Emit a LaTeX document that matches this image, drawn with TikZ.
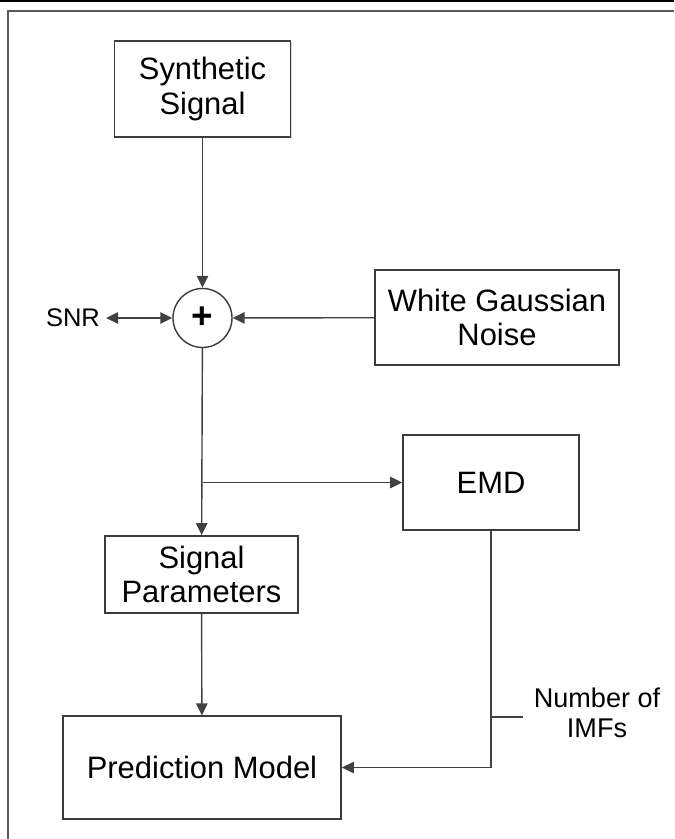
\documentclass[tikz,border=0pt]{standalone}
\usepackage{fontspec}
\setmainfont{Liberation Sans}
\usetikzlibrary{positioning,arrows.meta,shadows}
\definecolor{boxgray}{RGB}{60,60,60}
\definecolor{linegray}{RGB}{65,65,65}

\begin{document}
\begin{tikzpicture}[font=\fontsize{17.6}{19.5}\selectfont,
                box/.style={rectangle,draw=boxgray,line width=1pt,fill=white,
                            inner sep=0pt,align=center,
                            drop shadow={shadow xshift=0.7pt,shadow yshift=-0.7pt,opacity=0.3}},
                sumnode/.style={circle,draw=boxgray,line width=0.8pt,fill=white,
                            inner sep=0pt,minimum size=1.18cm,
                            font=\fontsize{21}{21}\selectfont\bfseries},
                small/.style={font=\fontsize{15.4}{17}\selectfont,align=center},
                arr/.style={-{Triangle[length=6.8pt,width=6.5pt]},linegray,line width=0.8pt},
                dbl/.style={{Triangle[length=6.8pt,width=6.5pt]}-{Triangle[length=6.8pt,width=6.5pt]},
                            linegray,line width=0.8pt},
                plain/.style={linegray,line width=0.8pt}]
                \useasboundingbox (0,0) rectangle (13.48,-16.78);
                \draw[line width=1.3pt] (0,-0.02) -- (13.48,-0.02);
                \draw[black!65,line width=1pt] (0.16,-16.78) -- (0.16,-0.22) -- (13.48,-0.22);
                \node[box,minimum width=3.52cm,minimum height=1.92cm]
                           (sig)   at (4.05,-1.78)  {Synthetic\\Signal};
                \node[sumnode] (sum)   at (4.05,-6.36)  {+};
                \node[small,font=\fontsize{14.5}{16}\selectfont]
                               (snr)   at (1.46,-6.36)  {SNR};
                \node[box,minimum width=4.88cm,minimum height=1.9cm]
                           (noise) at (9.94,-6.35)  {White Gaussian\\Noise};
                \node[box,minimum width=3.52cm,minimum height=1.9cm]
                           (emd)   at (9.82,-9.65)  {EMD};
                \node[box,minimum width=3.86cm,minimum height=1.54cm]
                           (par)   at (4.03,-11.49) {Signal\\Parameters};
                \node[box,minimum width=5.56cm,minimum height=2.05cm]
                           (pred)  at (4.04,-15.35) {Prediction Model};
                \node[small]   (nimf)  at (11.94,-14.26) {Number of\\IMFs};
                \coordinate (br)   at (sum.south |- emd.west);
                \coordinate (tick) at (9.82,-14.34);
                \coordinate (tickend) at (10.46,-14.34);
                \draw[arr] (sig)--(sum);
                \draw[arr] (noise)--(sum);
                \draw[dbl] (snr)--(sum);
                \draw[arr] (sum)--(par);
                \draw[arr] (br)--(emd);
                \draw[arr] (par)--(pred);
                \draw[arr] (emd.south) |- (pred.east);
                \draw[plain] (tick)--(tickend);
            \end{tikzpicture}
\end{document}
